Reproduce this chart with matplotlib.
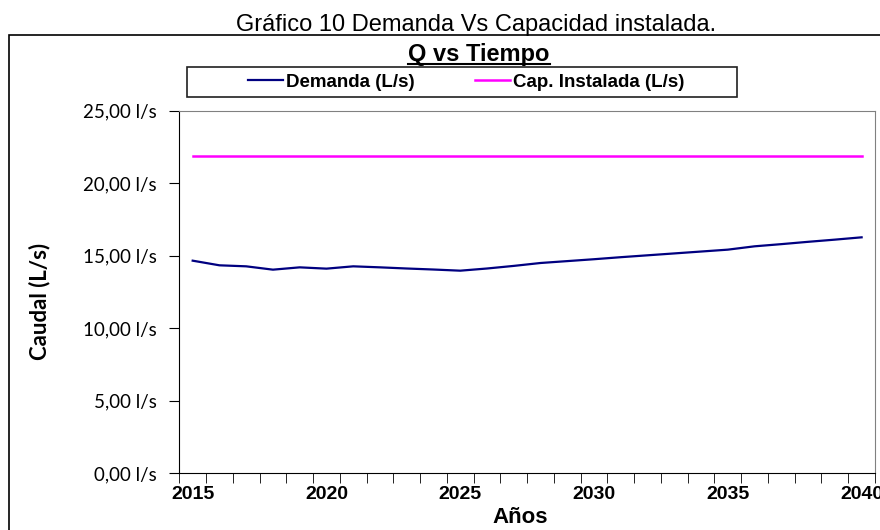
import numpy as np
import matplotlib
matplotlib.use("Agg")
import matplotlib.pyplot as plt
from matplotlib.lines import Line2D
from matplotlib.patches import Rectangle
from matplotlib.ticker import FuncFormatter, FixedLocator

# datos
anios = list(range(2015, 2041))
demanda = [14.66, 14.34, 14.27, 14.04, 14.20, 14.11, 14.27, 14.20, 14.12, 14.05,
           13.97, 14.12, 14.30, 14.50, 14.63, 14.76, 14.90, 15.03, 15.16, 15.29,
           15.42, 15.65, 15.80, 15.96, 16.11, 16.27]
cap_instalada = [21.88] * len(anios)
yticks = [0, 5, 10, 15, 20, 25]
xlabels = [2015, 2020, 2025, 2030, 2035, 2040]

W, H = 880, 530
fig = plt.figure(figsize=(8.8, 5.3), dpi=100)
ax = fig.add_axes([179.3 / W, 1 - 473.3 / H, (875 - 179.3) / W, (473.3 - 110.7) / H])

ax.plot(anios, demanda, color="#000080", lw=1.6, label="Demanda (L/s)")
ax.plot(anios, cap_instalada, color="#FF00FF", lw=1.8, label="Cap. Instalada (L/s)")

ax.set_xlim(2014.5, 2040.5)
ax.set_ylim(0, 25)

# eje de categorias: marcas entre anios, etiquetas cada 5
ax.xaxis.set_major_locator(FixedLocator(xlabels))
ax.xaxis.set_minor_locator(FixedLocator(np.arange(2014.5, 2041, 1)))
ax.tick_params(axis="x", which="major", length=0, pad=9,
               labelsize=14)
ax.tick_params(axis="x", which="minor", length=7, direction="out", color="black")
for lab in ax.get_xticklabels():
    lab.set_fontweight("bold")
    lab.set_family("Liberation Sans")

ax.set_yticks(yticks)
ax.yaxis.set_major_formatter(FuncFormatter(lambda v, p: ("%.2f l/s" % v).replace(".", ",")))
ax.tick_params(axis="y", length=7, direction="out", pad=9, labelsize=13.5, color="black")
for lab in ax.get_yticklabels():
    lab.set_family("Lato")

for s in ["top", "right"]:
    ax.spines[s].set_color("#808080")
for s in ["left", "bottom"]:
    ax.spines[s].set_color("black")

ax.set_xlabel("Años", fontsize=16, fontweight="bold", family="Liberation Sans")
ax.xaxis.set_label_coords(0.49, -0.094)
ax.set_ylabel("Caudal (L/s)", fontsize=16, fontweight="bold", family="Lato")
ax.yaxis.set_label_coords(-0.186, 0.475)

# borde del grafico
fig.add_artist(Rectangle((9.3 / W, -0.1), 1.0, 1 - 35 / H + 0.1, transform=fig.transFigure,
                         fill=False, ec="black", lw=1.2))

fig.text(476 / W, 1 - 31 / H, "Gráfico 10 Demanda Vs Capacidad instalada.",
         ha="center", va="baseline", fontsize=17, family="Liberation Sans")
t = fig.text(479 / W, 1 - 61 / H, "Q vs Tiempo", ha="center", va="baseline",
             fontsize=17, fontweight="bold", family="Liberation Sans")

# leyenda
fig.add_artist(Rectangle((187 / W, 1 - 97.3 / H), (737 - 187) / W, (97.3 - 66.7) / H,
                         transform=fig.transFigure, fill=False, ec="#202020", lw=1.2))
leg = fig.legend(loc="center", bbox_to_anchor=(466 / W, 1 - 82 / H), ncol=2, frameon=False,
                 handlelength=1.9, handletextpad=0.15, columnspacing=3.2,
                 prop={"family": "Liberation Sans", "weight": "bold", "size": 13.5})

# subrayado del titulo
fig.canvas.draw()
bb = t.get_window_extent().transformed(fig.transFigure.inverted())
fig.add_artist(Line2D([bb.x0, bb.x1], [1 - 64 / H, 1 - 64 / H], color="black", lw=1.5,
                      transform=fig.transFigure))

fig.savefig("out.png", dpi=100)
